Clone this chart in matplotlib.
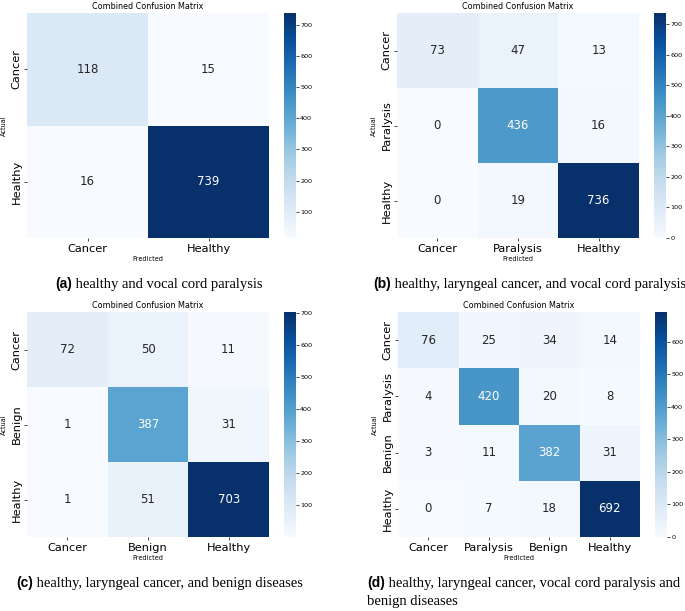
import numpy as np
import matplotlib
matplotlib.use("Agg")
import matplotlib.pyplot as plt
import seaborn as sns

labels_a = ["Cancer", "Healthy"]
cm_a = [[118, 15],
        [16, 739]]

labels_b = ["Cancer", "Paralysis", "Healthy"]
cm_b = [[73, 47, 13],
        [0, 436, 16],
        [0, 19, 736]]

labels_c = ["Cancer", "Benign", "Healthy"]
cm_c = [[72, 50, 11],
        [1, 387, 31],
        [1, 51, 703]]

labels_d = ["Cancer", "Paralysis", "Benign", "Healthy"]
cm_d = [[76, 25, 34, 14],
        [4, 420, 20, 8],
        [3, 11, 382, 31],
        [0, 7, 18, 692]]

captions = [
    ("(a)", " healthy and vocal cord paralysis"),
    ("(b)", " healthy, laryngeal cancer, and vocal cord paralysis"),
    ("(c)", " healthy, laryngeal cancer, and benign diseases"),
    ("(d)", " healthy, laryngeal cancer, vocal cord paralysis and\nbenign diseases"),
]

W, H = 685, 611
fig = plt.figure(figsize=(W / 100, H / 100), dpi=100)


def fx(px):
    return px / W


def fy(py):
    return 1 - py / H


panels = [
    (cm_a, labels_a, 27, 13),
    (cm_b, labels_b, 397, 13),
    (cm_c, labels_c, 27, 312),
    (cm_d, labels_d, 398, 312),
]

aw, ah = 242, 225
for cm, labels, x0, y0 in panels:
    ax = fig.add_axes([fx(x0), fy(y0 + ah), aw / W, ah / H])
    cax = fig.add_axes([fx(x0 + 257), fy(y0 + ah), 12 / W, ah / H])
    sns.heatmap(np.array(cm), annot=True, fmt="d", cmap="Blues", ax=ax, cbar_ax=cax,
                xticklabels=labels, yticklabels=labels,
                annot_kws={"fontsize": 8.5})
    ax.set_title("Combined Confusion Matrix", fontsize=5.8, pad=3)
    ax.set_xlabel("Predicted", fontsize=4.7, labelpad=2)
    ax.set_ylabel("Actual", fontsize=4.7, labelpad=3)
    ax.tick_params(axis="both", labelsize=8.2, length=2, width=0.5, pad=2)
    plt.setp(ax.get_yticklabels(), rotation=90, va="center")
    plt.setp(ax.get_xticklabels(), rotation=0)
    cax.tick_params(labelsize=4.6, length=2, width=0.5, pad=1)
    for s in cax.spines.values():
        s.set_visible(False)

# captions
cap_pos = [(55, 284), (373, 284), (16, 583), (367, 583)]
for (bold, rest), (cx, cy) in zip(captions, cap_pos):
    t = fig.text(fx(cx), fy(cy), bold, fontsize=10, fontweight="bold",
                 family="Liberation Sans", va="center", ha="left")
    fig.canvas.draw()
    bb = t.get_window_extent()
    lines = rest.split("\n")
    fig.text(bb.x1 / W, fy(cy), lines[0], fontsize=10.5, family="Liberation Serif",
             va="center", ha="left")
    if len(lines) > 1:
        fig.text(fx(cx), fy(cy + 19), lines[1], fontsize=10.5, family="Liberation Serif",
                 va="center", ha="left")

fig.savefig("out.png", dpi=100)
